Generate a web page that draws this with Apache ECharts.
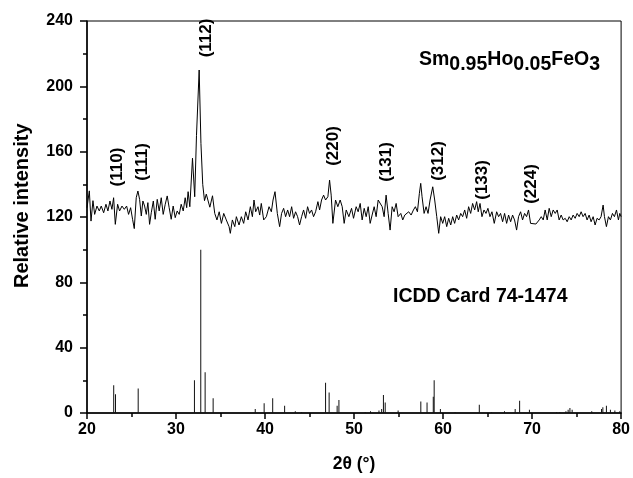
<!DOCTYPE html>
<html>
<head>
<meta charset="utf-8">
<script src="https://cdn.jsdelivr.net/npm/echarts@6/dist/echarts.min.js"></script>
<style>
  html, body { margin: 0; padding: 0; background: #fff; }
  #chart { width: 633px; height: 478px; }
</style>
</head>
<body>
<div id="chart"></div>
<script>
// Measured XRD pattern of Sm0.95Ho0.05FeO3 (2θ in degrees, intensity in a.u.)
const twoTheta = [
  20.0, 20.26, 20.45, 20.67, 20.86, 21.12, 21.38, 21.6, 21.87, 22.13,
  22.35, 22.58, 22.8, 22.99, 23.18, 23.44, 23.66, 23.93, 24.19, 24.45,
  24.67, 24.9, 25.12, 25.31, 25.53, 25.72, 25.91, 26.1, 26.28, 26.47,
  26.66, 26.84, 27.03, 27.22, 27.45, 27.66, 27.89, 28.11, 28.34, 28.56,
  28.79, 29.01, 29.23, 29.46, 29.68, 29.91, 30.13, 30.36, 30.58, 30.81,
  31.03, 31.2, 31.36, 31.55, 31.85, 32.1, 32.3, 32.6, 32.8, 33.0,
  33.2, 33.4, 33.6, 33.8, 34.1, 34.35, 34.6, 34.85, 35.1, 35.36,
  35.65, 35.96, 36.1, 36.33, 36.6, 36.78, 37.08, 37.34, 37.6, 37.83,
  38.09, 38.35, 38.58, 38.76, 38.95, 39.21, 39.4, 39.58, 39.85, 40.15,
  40.45, 40.71, 40.9, 41.12, 41.38, 41.64, 41.86, 42.09, 42.31, 42.54,
  42.76, 42.99, 43.21, 43.43, 43.66, 43.88, 44.11, 44.33, 44.56, 44.78,
  45.0, 45.23, 45.45, 45.68, 45.94, 46.13, 46.35, 46.58, 46.8, 47.06,
  47.25, 47.43, 47.62, 47.92, 48.18, 48.44, 48.67, 48.89, 49.12, 49.42,
  49.72, 49.94, 50.24, 50.46, 50.69, 50.91, 51.14, 51.36, 51.59, 51.81,
  52.03, 52.26, 52.48, 52.71, 52.93, 53.16, 53.38, 53.6, 53.83, 54.05,
  54.28, 54.5, 54.73, 54.95, 55.25, 55.47, 55.7, 55.92, 56.14, 56.41,
  56.67, 56.89, 57.12, 57.34, 57.49, 57.64, 57.87, 58.09, 58.31, 58.54,
  58.84, 59.06, 59.29, 59.51, 59.73, 59.96, 60.18, 60.41, 60.63, 60.86,
  61.08, 61.3, 61.53, 61.75, 61.98, 62.2, 62.43, 62.65, 62.87, 63.1,
  63.32, 63.55, 63.77, 63.95, 64.15, 64.37, 64.6, 64.82, 65.04, 65.27,
  65.49, 65.75, 66.02, 66.24, 66.46, 66.69, 66.91, 67.14, 67.36, 67.59,
  67.81, 68.03, 68.26, 68.48, 68.71, 68.93, 69.16, 69.38, 69.6, 69.83,
  70.05, 70.43, 70.8, 71.03, 71.25, 71.47, 71.7, 71.92, 72.15, 72.37,
  72.6, 72.82, 73.04, 73.27, 73.49, 73.72, 73.94, 74.17, 74.39, 74.61,
  74.84, 75.06, 75.29, 75.51, 75.73, 75.96, 76.18, 76.41, 76.63, 76.86,
  77.08, 77.3, 77.53, 77.75, 77.98, 78.13, 78.35, 78.58, 78.8, 79.03,
  79.25, 79.48, 79.7, 79.85, 80.0
];
const intensity = [
  125.7, 136, 117.5, 130, 121.6, 126.7, 123.7, 126.7, 122.6, 127.8,
  123.7, 129.8, 124.7, 131.8, 115.5, 127.8, 123.7, 126.7, 124.7, 126.7,
  121.6, 125.7, 118.6, 112.9, 131.8, 135.9, 130.8, 120.6, 129.8, 126.7,
  121.6, 128.8, 115.5, 122.6, 129.8, 118.6, 130.8, 123.7, 131.8, 121.6,
  127.8, 132.9, 125.7, 118.6, 126.7, 119.6, 123.7, 121.6, 127.8, 123.7,
  131.8, 125.7, 135.5, 126.3, 156, 132.4, 170, 210, 165, 140,
  130, 134, 135, 126, 133, 122.2, 118.2, 123.2, 116.1, 122.2,
  118.2, 114.1, 110, 118.2, 114.1, 120.2, 115.1, 120.2, 116.1, 123.2,
  118.2, 126.3, 120.2, 130.4, 123.2, 126.3, 121.2, 128.3, 118.2, 120.2,
  126.3, 123.2, 130.4, 135.5, 122.2, 114.1, 122.2, 125.3, 120.2, 124.3,
  120.2, 126.3, 119.2, 123.2, 120.2, 115.1, 120.2, 124.3, 119.2, 126.3,
  122.2, 124.3, 120.2, 123.2, 129.4, 124.3, 130.4, 133.4, 130.4, 132.4,
  142.6, 133.4, 116.1, 130.4, 126.3, 130.4, 126.3, 116.1, 124.3, 120.2,
  125.3, 119.2, 126.3, 123.2, 128.3, 118.2, 125.3, 120.2, 126.3, 116.1,
  121.2, 126.3, 120.2, 130.4, 129.4, 126.3, 120.2, 133.4, 122.2, 112,
  126.3, 123.2, 128.3, 120.2, 122.2, 118.2, 121.2, 120.2, 123.2, 121.2,
  124.3, 126.3, 123.2, 134.5, 140.6, 132.4, 122.2, 126.3, 122.2, 130.4,
  138.5, 130.4, 120.2, 110, 120.2, 116.1, 120.2, 114.1, 119.2, 115.1,
  120.2, 116.1, 121.2, 118.2, 122.2, 120.2, 124.3, 119.2, 126.3, 122.2,
  128.3, 124.3, 129.4, 123.2, 128.3, 120.2, 124.3, 122.2, 125.3, 120.2,
  123.2, 116.1, 123.2, 120.2, 122.2, 117.1, 122.2, 116.1, 121.2, 117.1,
  121.2, 118.2, 112, 120.2, 123.2, 118.2, 122.2, 120.2, 124.3, 116.1,
  116.1, 115.7, 118.2, 120.2, 118.2, 124.3, 118.2, 125.3, 120.2, 124.3,
  122.2, 124.3, 118.2, 121.2, 118.2, 119.2, 117.1, 120.2, 118.2, 121.2,
  119.2, 122.2, 120.2, 123.2, 120.2, 122.2, 118.2, 121.2, 117.1, 120.2,
  115.1, 119.2, 118.2, 120.2, 127.3, 120.2, 114.1, 120.2, 118.2, 122.2,
  120.2, 124.3, 118.2, 122.2, 120.2
];

// ICDD card 74-1474 reference reflections
const cardPos = [
  23.0, 23.2, 25.75, 32.07, 32.78, 33.27, 34.17, 38.9, 39.9, 40.86,
  42.2, 43.4, 44.1, 46.8, 47.2, 48.1, 48.3, 51.25, 51.85, 52.8,
  53.1, 53.3, 53.5, 54.95, 57.5, 58.2, 58.9, 59.0, 59.7, 61.35,
  64.07, 65.45, 66.9, 68.1, 68.6, 69.7, 72.75, 73.1, 73.8, 74.05,
  74.25, 74.5, 76.7, 77.8, 77.95, 78.35, 78.8, 79.3, 79.85
];
const cardInt = [
  17, 11.5, 15, 20, 100, 25, 9, 2.5, 6, 9,
  4.5, 1, 0.5, 18.5, 12.5, 4.5, 8, 0.5, 1, 1.5,
  2.5, 11, 6.5, 1.5, 7, 6.5, 10, 20, 2.5, 0.5,
  5, 0.5, 1, 2.5, 7.5, 2, 0.5, 0.5, 1, 2,
  3, 2, 1, 2.5, 3.5, 4.5, 2, 1.5, 1
];

// Miller indices of the indexed reflections and where their tags sit
const hklText = ['(110)', '(111)', '(112)', '(220)', '(131)', '(312)', '(133)', '(224)'];
const hklPos = [23.4, 26.2, 33.35, 47.62, 53.61, 59.51, 64.44, 69.87];
const hklLevel = [150.6, 153.7, 229.6, 163.5, 153.7, 154.3, 142.7, 140.2];

// Axis ranges and ticks
const xMin = 20, xMax = 80, xStep = 10;
const yMin = 0, yMax = 240, yStep = 40;

const font = '"Liberation Sans", Arial, sans-serif';

const chart = echarts.init(document.getElementById('chart'), null, { renderer: 'canvas' });

const patternData = twoTheta.map((t, i) => [t, intensity[i]]);
const cardData = cardPos.map((t, i) => [t, cardInt[i]]);

chart.setOption({
  animation: false,
  backgroundColor: '#fff',
  grid: {
    left: 87, right: 11, top: 21, bottom: 65,
    show: true, borderColor: '#000', borderWidth: 1, backgroundColor: 'transparent'
  },
  xAxis: {
    type: 'value', min: xMin, max: xMax, interval: xStep,
    name: '2θ (°)', nameLocation: 'middle', nameGap: 42,
    nameTextStyle: { fontFamily: font, fontWeight: 'bold', fontSize: 17.5, color: '#000' },
    axisLine: { onZero: false, lineStyle: { color: '#000', width: 1.5 } },
    axisTick: { inside: false, length: 6, lineStyle: { color: '#000', width: 1.5 } },
    minorTick: { show: true, splitNumber: 2, length: 4, lineStyle: { color: '#000', width: 1.5 } },
    axisLabel: { margin: 9, fontFamily: font, fontWeight: 'bold', fontSize: 16, color: '#000' },
    splitLine: { show: false }
  },
  yAxis: {
    type: 'value', min: yMin, max: yMax, interval: yStep,
    axisLine: { show: true, onZero: false, lineStyle: { color: '#000', width: 1.5 } },
    axisTick: { show: true, inside: false, length: 7, lineStyle: { color: '#000', width: 1.5 } },
    minorTick: { show: true, splitNumber: 2, length: 4, lineStyle: { color: '#000', width: 1.5 } },
    axisLabel: { margin: 14, fontFamily: font, fontWeight: 'bold', fontSize: 16, color: '#000' },
    splitLine: { show: false }
  },
  series: [
    {
      name: 'pattern', type: 'line', data: patternData,
      showSymbol: false, symbol: 'none', silent: true,
      lineStyle: { color: '#000', width: 1 }
    },
    {
      name: 'card', type: 'bar', data: cardData,
      barWidth: 1, silent: true,
      itemStyle: { color: '#111' }
    }
  ],
  graphic: [
    {
      id: 'yname', type: 'text', rotation: Math.PI / 2, x: 12, y: 288,
      style: {
        text: 'Relative intensity', fontFamily: font, fontWeight: 'bold',
        fontSize: 20, fill: '#000'
      }
    },
    {
      id: 'sample', type: 'text', x: 419, y: 45,
      style: {
        text: 'Sm{s|0.95}Ho{s|0.05}FeO{s|3}',
        fontFamily: font, fontWeight: 'bold', fontSize: 19.5, fill: '#000',
        verticalAlign: 'top',
        rich: {
          s: { fontFamily: font, fontWeight: 'bold', fontSize: 19.5, fill: '#000', padding: [10, 0, 0, 0], verticalAlign: 'bottom' }
        }
      }
    },
    {
      id: 'card', type: 'text', x: 393, y: 287,
      style: {
        text: 'ICDD Card 74-1474', fontFamily: font, fontWeight: 'bold',
        fontSize: 19.5, fill: '#000'
      }
    }
  ]
});

// Vertical (hkl) tags, placed through the chart's own coordinate system
const hklGraphics = hklText.map((s, i) => {
  const [px, py] = chart.convertToPixel({ gridIndex: 0 }, [hklPos[i], hklLevel[i]]);
  return {
    id: 'hkl' + i, type: 'text', x: px, y: py, rotation: Math.PI / 2,
    style: {
      text: s, fontFamily: font, fontWeight: 'bold', fontSize: 17, fill: '#000',
      align: 'center', verticalAlign: 'middle'
    }
  };
});
chart.setOption({ graphic: hklGraphics });
</script>
</body>
</html>
